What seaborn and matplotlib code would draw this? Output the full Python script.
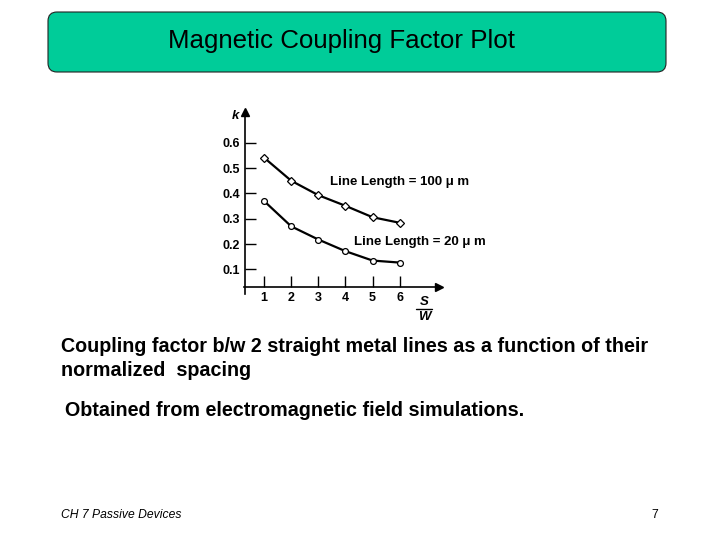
import matplotlib
matplotlib.use("Agg")
import matplotlib.pyplot as plt
import seaborn as sns
import pandas as pd
from matplotlib.patches import FancyBboxPatch

# ---- data ----
spacing = [1, 2, 3, 4, 5, 6]
k_100um = [0.541, 0.450, 0.393, 0.351, 0.306, 0.284]
k_20um = [0.370, 0.270, 0.218, 0.172, 0.135, 0.127]
x_ticks = [1, 2, 3, 4, 5, 6]
y_ticks = [0.1, 0.2, 0.3, 0.4, 0.5, 0.6]
y_tick_labels = ["0.1", "0.2", "0.3", "0.4", "0.5", "0.6"]

title = "Magnetic Coupling Factor Plot"
body1 = "Coupling factor b/w 2 straight metal lines as a function of their"
body1b = "normalized  spacing"
body2 = "Obtained from electromagnetic field simulations."
footer = "CH 7 Passive Devices"
page = "7"

sns.set_theme(style="white")
plt.rcParams["font.family"] = ["Liberation Sans", "DejaVu Sans"]
plt.rcParams["text.color"] = "black"
plt.rcParams["xtick.color"] = "black"
plt.rcParams["ytick.color"] = "black"

fig = plt.figure(figsize=(7.2, 5.4), dpi=100)
fig.patch.set_facecolor("white")

# Title box
box = FancyBboxPatch((0.48, 5.40 - 0.72), 6.18, 0.60,
                     boxstyle="round,pad=0,rounding_size=0.09",
                     transform=fig.dpi_scale_trans, facecolor="#00CC99",
                     edgecolor="#222222", linewidth=0.8)
fig.patches.append(box)
fig.text(342 / 720, 1 - 41 / 540, title, ha="center", va="center",
         fontsize=18.6, color="black")

# Plot axes
left_px, right_px, top_px, bot_px = 244.0, 439.0, 112.3, 293.5
ax = fig.add_axes([left_px / 720, 1 - bot_px / 540,
                   (right_px - left_px) / 720, (bot_px - top_px) / 540])
df = pd.DataFrame({
    "S/W": spacing * 2,
    "k": k_100um + k_20um,
    "series": ["100"] * len(spacing) + ["20"] * len(spacing),
})
sns.lineplot(data=df, x="S/W", y="k", style="series", markers={"100": "D", "20": "o"},
             dashes=False, color="black", linewidth=1.6, markersize=4.2,
             markerfacecolor="white", markeredgecolor="black", markeredgewidth=0.9,
             legend=False, ax=ax)

ax.set_xlim(0.26, 7.45)
ax.set_ylim(0.005, 0.72)
ax.spines["bottom"].set_position(("data", 0.031))
ax.spines["left"].set_position(("data", 0.31))
ax.spines["top"].set_visible(False)
ax.spines["right"].set_visible(False)
for s in ("bottom", "left"):
    ax.spines[s].set_color("black")
    ax.spines[s].set_linewidth(1.2)
ax.set_xticks(x_ticks)
ax.set_xticklabels([str(v) for v in x_ticks], fontweight="bold", fontsize=9)
ax.set_yticks(y_ticks)
ax.set_yticklabels(y_tick_labels, fontweight="bold", fontsize=9)
ax.tick_params(axis="x", direction="in", length=8, width=1, color="black", pad=4, bottom=True)
ax.tick_params(axis="y", direction="in", length=8, width=1, color="black", pad=4, left=True)
ax.set_xlabel("")
ax.set_ylabel("")
ax.grid(False)
ax.set_facecolor("none")

# arrowheads
ax.plot(7.45, 0.031, marker=">", color="black", markersize=6, clip_on=False, transform=ax.transData)
ax.plot(0.31, 0.72, marker="^", color="black", markersize=6, clip_on=False, transform=ax.transData)

ax.text(-0.05, 0.705, "k", fontsize=9.5, fontweight="bold", fontstyle="italic",
        ha="center", va="center", clip_on=False)
ax.text(6.9, -0.028, "S", fontsize=9.5, fontweight="bold", fontstyle="italic",
        ha="center", va="center", clip_on=False)
ax.plot([6.62, 7.18], [-0.057, -0.057], color="black", linewidth=1.0, clip_on=False)
ax.text(6.9, -0.088, "W", fontsize=9.5, fontweight="bold", fontstyle="italic",
        ha="center", va="center", clip_on=False)

ax.text(3.42, 0.4445, "Line Length = 100 \u03bc m", fontsize=9.5, fontweight="bold",
        ha="left", va="center")
ax.text(4.33, 0.207, "Line Length = 20 \u03bc m", fontsize=9.5, fontweight="bold",
        ha="left", va="center")

# Body text
fig.text(61 / 720, 1 - 346 / 540, body1, ha="left", va="center", fontsize=14.2,
         fontweight="bold")
fig.text(61 / 720, 1 - 370 / 540, body1b, ha="left", va="center", fontsize=14.2,
         fontweight="bold")
fig.text(65 / 720, 1 - 410 / 540, body2, ha="left", va="center", fontsize=14.2,
         fontweight="bold")
fig.text(61 / 720, 1 - 515 / 540, footer, ha="left", va="center", fontsize=8.7,
         fontstyle="italic")
fig.text(658 / 720, 1 - 515 / 540, page, ha="right", va="center", fontsize=8.7)

fig.savefig("out.png", dpi=100)
